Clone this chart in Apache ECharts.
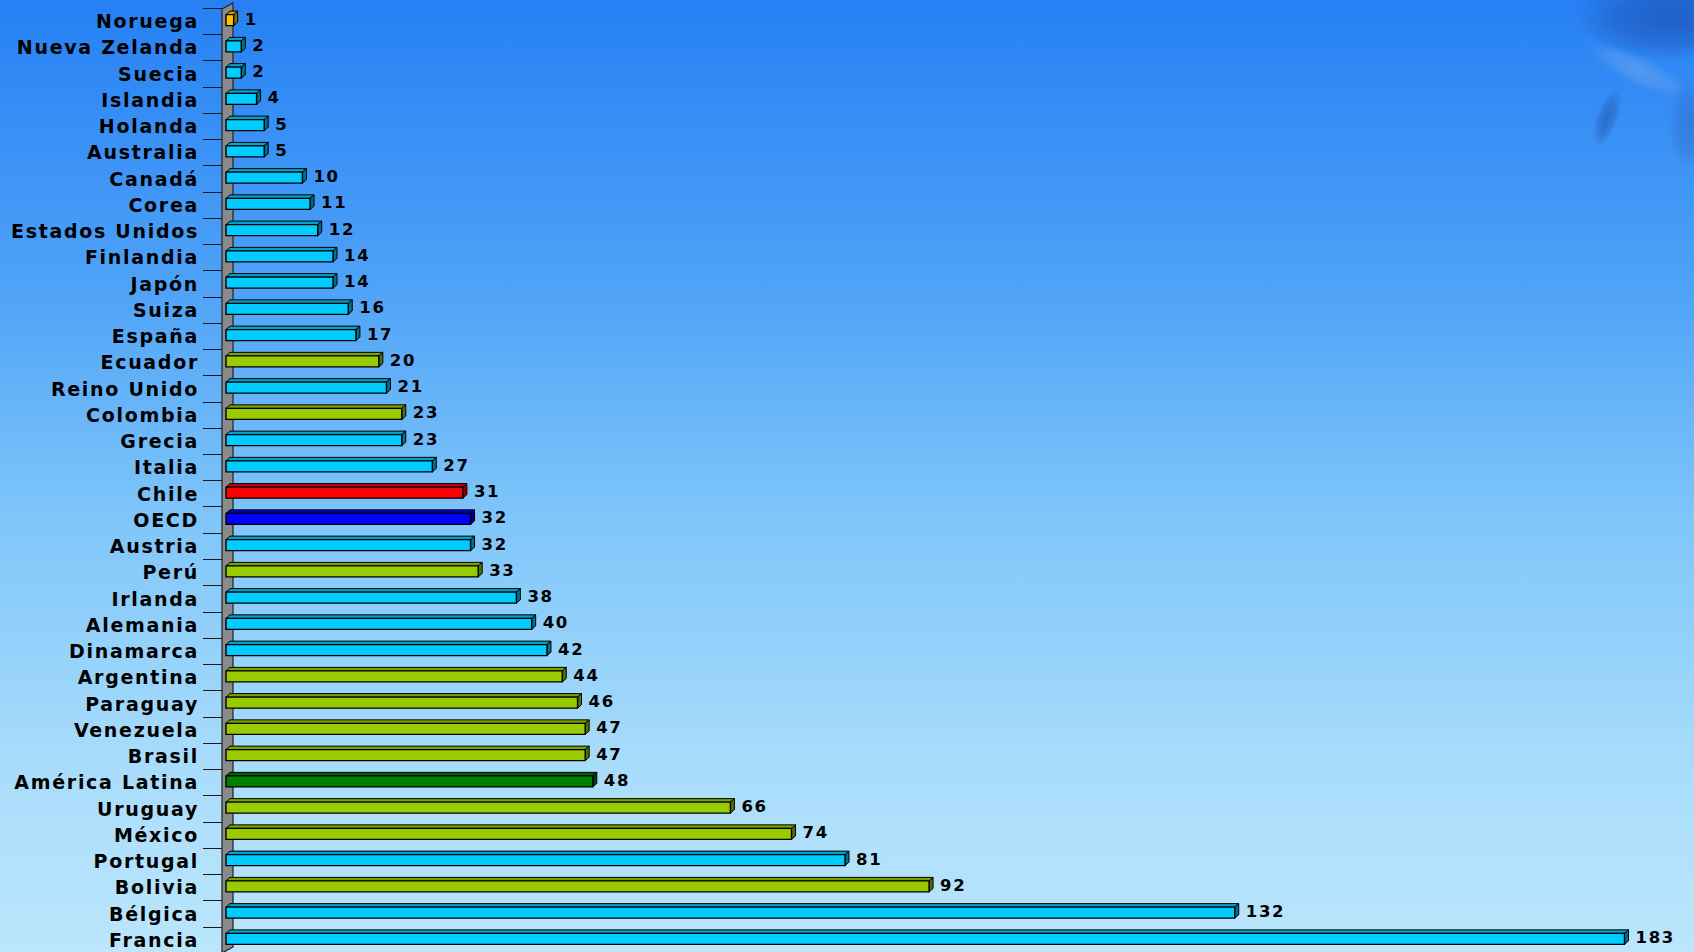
<!DOCTYPE html>
<html><head><meta charset="utf-8">
<script src="https://cdn.jsdelivr.net/npm/echarts@6/dist/echarts.min.js"></script>
<style>
html,body{margin:0;padding:0;overflow:hidden;}
#c{width:1694px;height:952px;}
#c text{letter-spacing:1.7px;}
</style>
</head><body><div id="c"></div>
<script>
// ---- data ----
const categories = ['Noruega','Nueva Zelanda','Suecia','Islandia','Holanda','Australia','Canadá','Corea','Estados Unidos','Finlandia','Japón','Suiza','España','Ecuador','Reino Unido','Colombia','Grecia','Italia','Chile','OECD','Austria','Perú','Irlanda','Alemania','Dinamarca','Argentina','Paraguay','Venezuela','Brasil','América Latina','Uruguay','México','Portugal','Bolivia','Bélgica','Francia'];
const values = [1,2,2,4,5,5,10,11,12,14,14,16,17,20,21,23,23,27,31,32,32,33,38,40,42,44,46,47,47,48,66,74,81,92,132,183];
const groups = ['top','oecd','oecd','oecd','oecd','oecd','oecd','oecd','oecd','oecd','oecd','oecd','oecd','latam','oecd','latam','oecd','oecd','chile','oecdAvg','oecd','latam','oecd','oecd','oecd','latam','latam','latam','latam','latamAvg','latam','latam','oecd','latam','oecd','oecd'];

// ---- styles ----
const groupColors = {top:'#FFC000', oecd:'#00CCFF', latam:'#99CC00', chile:'#FF0000', oecdAvg:'#0000FF', latamAvg:'#008000'};
function shade(hex, f){
  const n = parseInt(hex.slice(1),16);
  const r = Math.round(((n>>16)&255)*f), g = Math.round(((n>>8)&255)*f), b = Math.round((n&255)*f);
  return 'rgb('+r+','+g+','+b+')';
}
const FONT = '"DejaVu Sans", Verdana, sans-serif';

function renderBar(params, api){
  const v = api.value(0), idx = api.value(1);
  const p0 = api.coord([0, idx]);
  const p1 = api.coord([v, idx]);
  const band = api.size([0, 1])[1];
  const h = band * 0.42;
  const dx = 4, dy = 3.5;
  const cy = p0[1] - 1;
  const x0 = p0[0], x1 = p1[0];
  const top = cy - h/2, bot = cy + h/2;
  const c = groupColors[groups[idx]];
  return {type:'group', children:[
    {type:'polygon', shape:{points:[[x0,top],[x0+dx,top-dy],[x1+dx,top-dy],[x1,top]]}, style:{fill:shade(c,0.8), stroke:'#000', lineWidth:1}},
    {type:'polygon', shape:{points:[[x1,top],[x1+dx,top-dy],[x1+dx,bot-dy],[x1,bot]]}, style:{fill:shade(c,0.55), stroke:'#000', lineWidth:1}},
    {type:'rect', shape:{x:x0, y:top, width:x1-x0, height:h}, style:{fill:c, stroke:'#000', lineWidth:1.4}},
    {type:'text', x:x1+dx+7, y:cy-1, style:{text:String(v), font:'bold 16.5px '+FONT, fill:'#000', verticalAlign:'middle', align:'left'}}
  ]};
}

function renderWall(params, api){
  const cs = params.coordSys;
  const x = cs.x, y = cs.y, H = cs.height;
  return {type:'polygon', shape:{points:[[x-4, y+1],[x+7, y-5],[x+7, y+H-6],[x-4, y+H]]},
    style:{fill:'#8a8a8a', stroke:'#222', lineWidth:1.2}};
}

function blob(cx, cy, rx, ry, rot, color){
  return {type:'ellipse', x:cx, y:cy, rotation:rot, z:-9, silent:true, shape:{cx:0, cy:0, rx:rx, ry:ry},
    style:{fill:{type:'radial', x:0.5, y:0.5, r:0.5, colorStops:[{offset:0, color:color},{offset:0.6, color:color.replace(/[\d.]+\)$/, m=>(parseFloat(m)*0.6)+')')},{offset:1, color:color.replace(/[\d.]+\)$/, '0)')}]}}};
}

const chart = echarts.init(document.getElementById('c'), null, {renderer:'svg'});
chart.setOption({
  animation:false,
  graphic:[
    {type:'rect', left:0, top:0, z:-10, silent:true, shape:{width:1694, height:952},
      style:{fill:{type:'linear', x:0, y:0, x2:0, y2:1, colorStops:[
        {offset:0, color:'#2680F4'},{offset:0.3, color:'#4EA2F7'},{offset:0.55, color:'#80C6FA'},
        {offset:0.8, color:'#A8DCFB'},{offset:1, color:'#BBE6FC'}]}}},
    blob(1670, 18, 95, 42, 0, 'rgba(25,60,150,0.5)'),
    blob(1638, 70, 55, 15, -0.45, 'rgba(170,190,225,0.3)'),
    blob(1607, 118, 11, 30, -0.35, 'rgba(35,75,155,0.5)'),
    blob(1690, 125, 22, 45, 0, 'rgba(40,80,160,0.3)')
  ],
  grid:{left:226, right:16, top:8, height:945, outerBoundsMode:'none'},
  xAxis:{type:'value', min:0, max:190, show:false},
  yAxis:{type:'category', data:categories, inverse:true,
    axisLine:{show:false},
    axisTick:{show:true, length:23, lineStyle:{color:'#1a1a1a', width:1}},
    axisLabel:{margin:27, color:'#000', fontFamily:FONT, fontWeight:'bold', fontSize:19}},
  series:[
    {type:'custom', renderItem:renderWall, data:[[0,0]], encode:{x:0, y:1}, silent:true, clip:false},
    {type:'custom', renderItem:renderBar, data:values.map((v,i)=>[v,i]), encode:{x:0, y:1}, clip:false}
  ]
});
</script></body></html>
